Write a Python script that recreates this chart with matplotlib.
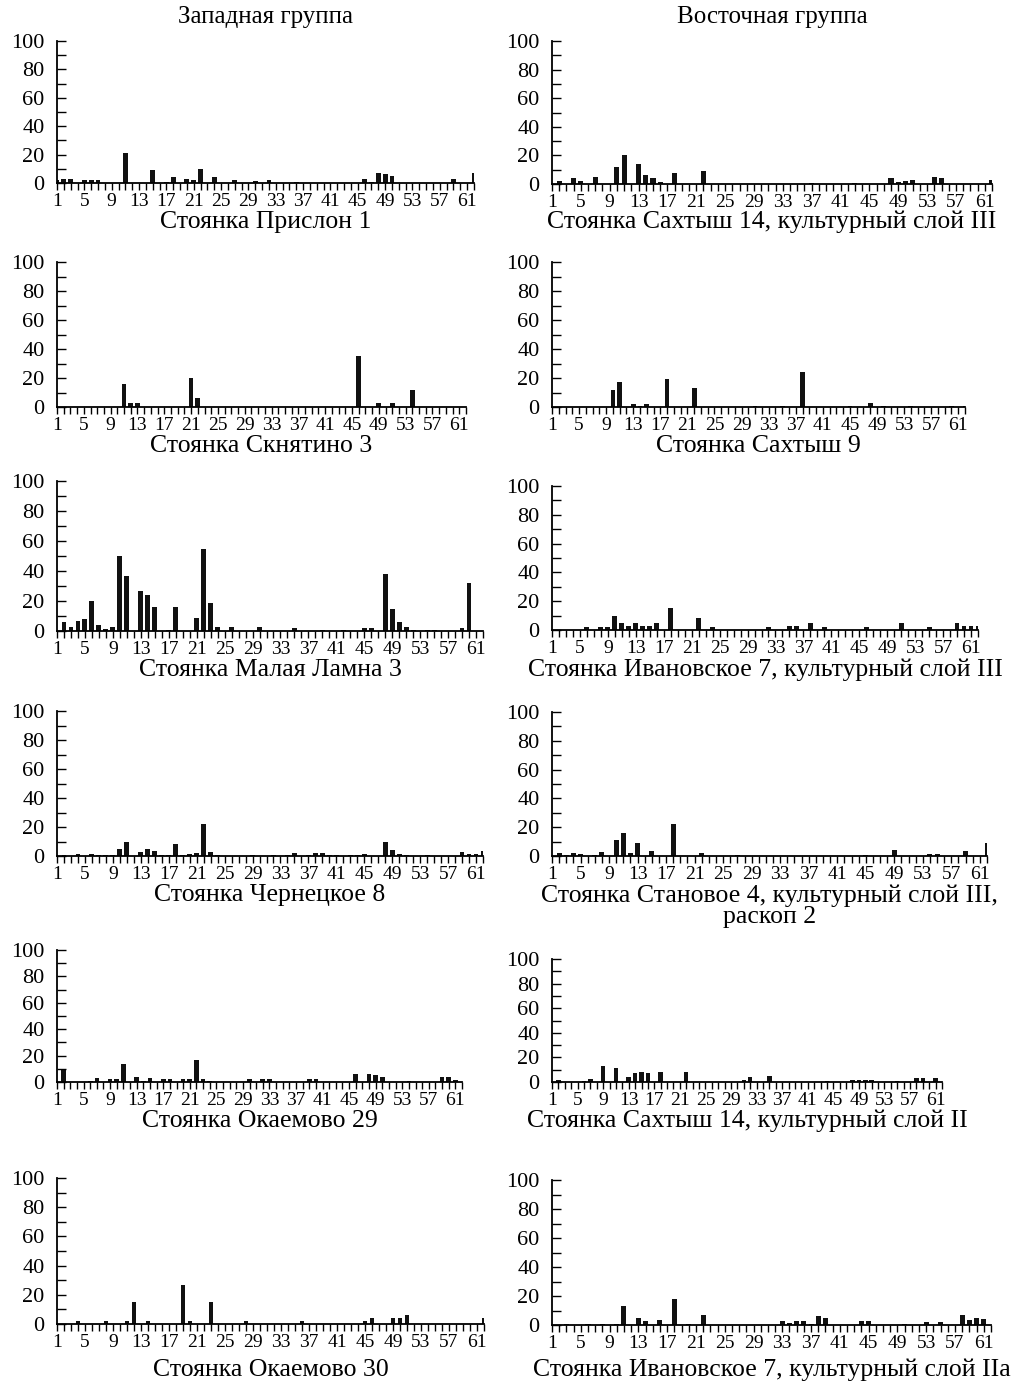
import matplotlib
matplotlib.use("Agg")
import matplotlib.pyplot as plt
from matplotlib.ticker import FixedLocator, MultipleLocator

plt.rcParams['font.family'] = ['Liberation Serif', 'DejaVu Serif']

# categories 1..62, labels every 4th
categories = list(range(1, 63))
x_label_pos = [1, 5, 9, 13, 17, 21, 25, 29, 33, 37, 41, 45, 49, 53, 57, 61]

# western group
prislon_1 = [2, 3, 3, 0, 2, 2, 2, 0, 0, 0,
             21, 0, 0, 0, 9, 0, 1, 4, 0, 3,
             2, 10, 0, 4, 0, 0, 2, 0, 0, 1.5,
             0, 2, 0, 0, 0, 1, 0, 0, 0, 0,
             0, 0, 0, 0, 0, 3, 1, 7, 6, 5,
             0, 0, 0, 0, 0, 0, 0, 0, 3, 0,
             0, 7]
sknyatino_3 = [0, 0, 0, 0, 0, 0, 0, 0, 0, 0,
               16, 3, 3, 0, 0, 0, 0, 0, 0, 0,
               20, 6, 0, 0, 0, 0, 0, 0, 0, 0,
               0, 0, 0, 0, 0, 0, 0, 0, 0, 0,
               0, 0, 0, 0, 0, 35, 0, 0, 3, 0,
               3, 0, 0, 12, 0, 0, 0, 0, 0, 0,
               0, 0]
malaya_lamna_3 = [0, 6, 3, 7, 8, 20, 4, 1.5, 3, 50,
                  37, 0, 27, 24, 16, 0, 1, 16, 0, 0,
                  9, 55, 19, 3, 0, 3, 0, 0, 0, 3,
                  0, 0, 0, 0, 2, 0, 0, 0, 1, 0,
                  0, 1, 0, 0, 2, 2, 0, 38, 15, 6,
                  3, 1, 0, 1, 1, 0, 0, 0, 2, 32,
                  0, 0]
chernetskoe_8 = [0, 1, 0, 1.5, 0, 1.5, 1, 1, 1, 5,
                 10, 0, 3, 5, 3.5, 1, 1, 8, 1, 1.5,
                 2, 22, 3, 1, 0, 0, 0, 0, 1, 0,
                 0, 1, 0, 1, 2, 0, 1, 2, 2, 1,
                 1, 0, 1, 1, 1.5, 0, 0, 10, 4, 1.5,
                 1, 0, 0, 1, 0, 0, 0, 0, 3, 1.5,
                 1.5, 3.5]
okaemovo_29 = [0, 10, 0, 0, 0, 1, 3, 0, 2, 2,
               14, 0, 4, 1, 3, 0, 2, 2, 0, 2,
               2, 17, 2, 1, 0, 0, 0, 0, 0, 2,
               0, 2, 2, 0, 0, 0, 0, 0, 2, 2,
               0, 0, 0, 0, 0, 6, 0, 6, 5, 4,
               0, 0, 0, 1, 0, 0, 0, 0, 4, 4,
               1.5, 0]
okaemovo_30 = [0, 0, 0, 2, 0, 0, 0, 2, 0, 0,
               2, 15, 0, 2, 0, 0, 0, 0, 27, 2,
               0, 0, 15, 0, 0, 0, 0, 2, 0, 0,
               0, 0, 0, 0, 0, 2, 0, 0, 0, 0,
               0, 0, 0, 0, 2, 4, 0, 0, 4, 4,
               6, 0, 0, 0, 0, 0, 0, 0, 0, 0,
               0, 4]

# eastern group
sakhtysh_14_III = [0, 2, 0, 4, 2, 0, 5, 0, 0, 12,
                   20, 0, 14, 6, 4, 1.5, 0, 8, 0, 0,
                   0, 9, 0, 0, 0, 0, 0, 0, 0, 0,
                   0, 0, 0, 0, 0, 0, 1, 0, 0, 0,
                   0, 0, 1, 0, 0, 0, 0, 4, 1.5, 2,
                   3, 0, 0, 5, 4, 0, 0, 0, 0, 0,
                   0, 3]
sakhtysh_9 = [0, 0, 0, 0, 0, 0, 0, 0, 0, 12,
              17, 0, 2, 1, 2, 0, 0, 19, 0, 0,
              0, 13, 0, 0, 0, 0, 0, 0, 0, 0,
              1, 0, 0, 0, 1, 0, 0, 24, 0, 0,
              0, 0, 0, 0, 1, 0, 0, 2.5, 0, 1,
              0, 0, 0, 1, 0, 0, 0, 0, 0, 1,
              0, 1]
ivanovskoe_7_III = [0, 0, 0, 0, 0, 2, 0, 2, 2, 10,
                    5, 3, 5, 2.5, 2.5, 5, 0, 15, 0, 0,
                    0, 8, 0, 2, 0, 0, 0, 0, 0, 0,
                    0, 2, 0, 0, 2.5, 2.5, 0, 5, 0, 2,
                    0, 0, 0, 0, 0, 2, 0, 0, 0, 0,
                    5, 0, 0, 0, 2, 0, 0, 0, 5, 3,
                    3, 3]
stanovoe_4 = [0, 2, 1, 2, 1.5, 0, 1, 3, 0, 11,
              16, 2, 9, 0, 3.5, 0, 0, 22, 0, 0,
              0, 2, 0, 0, 0, 0, 1, 0, 0, 0,
              0, 0, 0, 0, 0, 0, 0, 0, 0, 0,
              0, 0, 0, 0, 1, 0, 0, 0, 4.5, 0,
              0, 0, 0, 1.5, 1.5, 0, 0, 0, 3.5, 0,
              0, 9]
sakhtysh_14_II = [0, 1.5, 0, 0, 0, 1, 2.5, 0, 13, 0,
                  11, 0, 4, 7, 8, 7, 0, 8, 0, 0,
                  0, 8, 0, 0, 0, 0, 0, 0, 0, 0,
                  1.5, 4, 0, 0, 5, 0, 0, 0, 0, 0,
                  0, 0, 0, 1, 0, 0, 0, 2, 2, 2,
                  2, 0, 0, 0, 1, 0, 0, 3, 3, 0,
                  3, 0]
ivanovskoe_7_IIa = [0, 0, 1, 0, 0, 1, 0, 1, 0, 1,
                    13, 0, 5, 2.5, 0, 3.5, 0, 18, 0, 1,
                    0, 7, 0, 0, 0, 0, 0, 0, 0, 0,
                    0, 0, 2.5, 1.5, 2.5, 2.5, 1, 6, 5, 0,
                    0, 0, 0, 2.5, 2.5, 0, 0, 0, 0, 1,
                    0, 0, 2, 0, 2, 0, 0, 7, 3.5, 5,
                    4, 0]

west = [(prislon_1, "Стоянка Прислон 1"),
        (sknyatino_3, "Стоянка Скнятино 3"),
        (malaya_lamna_3, "Стоянка Малая Ламна 3"),
        (chernetskoe_8, "Стоянка Чернецкое 8"),
        (okaemovo_29, "Стоянка Окаемово 29"),
        (okaemovo_30, "Стоянка Окаемово 30")]
east = [(sakhtysh_14_III, "Стоянка Сахтыш 14, культурный слой III"),
        (sakhtysh_9, "Стоянка Сахтыш 9"),
        (ivanovskoe_7_III, "Стоянка Ивановское 7, культурный слой III"),
        (stanovoe_4, "Стоянка Становое 4, культурный слой III,\nраскоп 2"),
        (sakhtysh_14_II, "Стоянка Сахтыш 14, культурный слой II"),
        (ivanovskoe_7_IIa, "Стоянка Ивановское 7, культурный слой IIa")]

# layout in pixels of the scanned page
W, H = 1026, 1391
col_x0 = [57, 552]
col_x1 = [[474, 466, 483, 483, 462, 484], [992, 965, 978, 987, 942, 991]]
row_top = [[41, 262, 481, 711, 950, 1178], [41, 262, 486, 712, 959, 1180]]
row_zero = [[183, 407, 631, 856, 1082, 1324], [184, 407, 630, 856, 1082, 1325]]
title_y = [[222, 446, 670, 895, 1121, 1370], [222, 446, 670, 906, 1121, 1370]]

fig = plt.figure(figsize=(W / 100, H / 100), dpi=100)

for c, group in enumerate([west, east]):
    for r, (vals, title) in enumerate(group):
        x0, x1 = col_x0[c], col_x1[c][r]
        yt, yz = row_top[c][r], row_zero[c][r]
        ax = fig.add_axes([x0 / W, 1 - yz / H, (x1 - x0) / W, (yz - yt) / H])
        ax.bar(categories, vals, width=0.7, color='#111111', linewidth=0)
        ax.set_xlim(1, 62)
        ax.set_ylim(0, 100)
        for s in ['top', 'right']:
            ax.spines[s].set_visible(False)
        for s in ['left', 'bottom']:
            ax.spines[s].set_linewidth(1.3)
        ax.xaxis.set_major_locator(FixedLocator(x_label_pos))
        ax.xaxis.set_minor_locator(FixedLocator(categories))
        ax.set_xticklabels([str(p) for p in x_label_pos])
        ax.yaxis.set_major_locator(MultipleLocator(20))
        ax.yaxis.set_minor_locator(MultipleLocator(10))
        ax.tick_params(axis='x', which='both', direction='out', length=5, width=1, pad=2.5, labelsize=14)
        ax.tick_params(axis='y', which='both', direction='in', length=6.5, width=1, pad=9, labelsize=16)
        fig.text((x0 + x1) / 2 / W, 1 - title_y[c][r] / H, title, ha='center', va='center',
                 fontsize=18.5, linespacing=0.95)

fig.text((57 + 474) / 2 / W, 1 - 17 / H, "Западная группа", ha='center', va='center', fontsize=18)
fig.text((552 + 992) / 2 / W, 1 - 17 / H, "Восточная группа", ha='center', va='center', fontsize=18)

fig.savefig("out.png", dpi=100)
